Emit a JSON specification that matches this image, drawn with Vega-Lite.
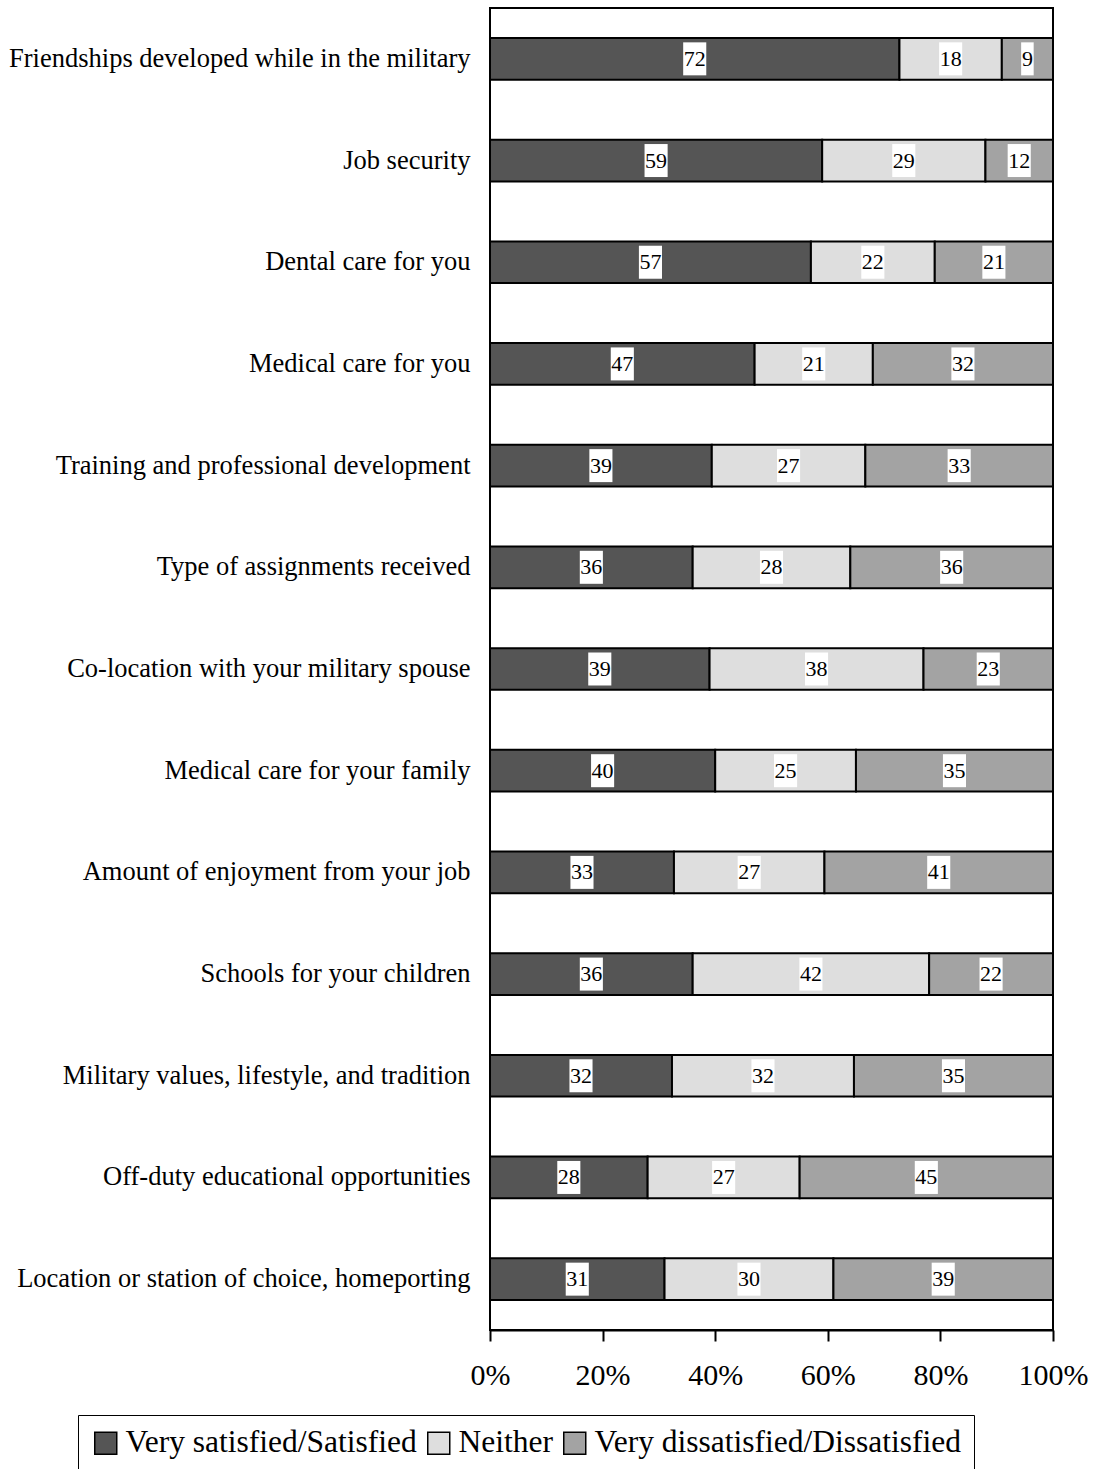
{
  "$schema": "https://vega.github.io/schema/vega-lite/v6.json",
  "autosize": "none",
  "width": 563,
  "height": 1322,
  "padding": {"left": 490, "top": 8, "right": 42, "bottom": 139},
  "background": "white",
  "config": {
    "font": "Liberation Serif",
    "view": {"stroke": "black", "strokeWidth": 2},
    "legend": {"strokeColor": "black"}
  },
  "data": {"values": [
    {"item": "Friendships developed while in the military", "response": "Very satisfied/Satisfied", "k": 1, "pct": 72},
    {"item": "Friendships developed while in the military", "response": "Neither", "k": 2, "pct": 18},
    {"item": "Friendships developed while in the military", "response": "Very dissatisfied/Dissatisfied", "k": 3, "pct": 9},
    {"item": "Job security", "response": "Very satisfied/Satisfied", "k": 1, "pct": 59},
    {"item": "Job security", "response": "Neither", "k": 2, "pct": 29},
    {"item": "Job security", "response": "Very dissatisfied/Dissatisfied", "k": 3, "pct": 12},
    {"item": "Dental care for you", "response": "Very satisfied/Satisfied", "k": 1, "pct": 57},
    {"item": "Dental care for you", "response": "Neither", "k": 2, "pct": 22},
    {"item": "Dental care for you", "response": "Very dissatisfied/Dissatisfied", "k": 3, "pct": 21},
    {"item": "Medical care for you", "response": "Very satisfied/Satisfied", "k": 1, "pct": 47},
    {"item": "Medical care for you", "response": "Neither", "k": 2, "pct": 21},
    {"item": "Medical care for you", "response": "Very dissatisfied/Dissatisfied", "k": 3, "pct": 32},
    {"item": "Training and professional development", "response": "Very satisfied/Satisfied", "k": 1, "pct": 39},
    {"item": "Training and professional development", "response": "Neither", "k": 2, "pct": 27},
    {"item": "Training and professional development", "response": "Very dissatisfied/Dissatisfied", "k": 3, "pct": 33},
    {"item": "Type of assignments received", "response": "Very satisfied/Satisfied", "k": 1, "pct": 36},
    {"item": "Type of assignments received", "response": "Neither", "k": 2, "pct": 28},
    {"item": "Type of assignments received", "response": "Very dissatisfied/Dissatisfied", "k": 3, "pct": 36},
    {"item": "Co-location with your military spouse", "response": "Very satisfied/Satisfied", "k": 1, "pct": 39},
    {"item": "Co-location with your military spouse", "response": "Neither", "k": 2, "pct": 38},
    {"item": "Co-location with your military spouse", "response": "Very dissatisfied/Dissatisfied", "k": 3, "pct": 23},
    {"item": "Medical care for your family", "response": "Very satisfied/Satisfied", "k": 1, "pct": 40},
    {"item": "Medical care for your family", "response": "Neither", "k": 2, "pct": 25},
    {"item": "Medical care for your family", "response": "Very dissatisfied/Dissatisfied", "k": 3, "pct": 35},
    {"item": "Amount of enjoyment from your job", "response": "Very satisfied/Satisfied", "k": 1, "pct": 33},
    {"item": "Amount of enjoyment from your job", "response": "Neither", "k": 2, "pct": 27},
    {"item": "Amount of enjoyment from your job", "response": "Very dissatisfied/Dissatisfied", "k": 3, "pct": 41},
    {"item": "Schools for your children", "response": "Very satisfied/Satisfied", "k": 1, "pct": 36},
    {"item": "Schools for your children", "response": "Neither", "k": 2, "pct": 42},
    {"item": "Schools for your children", "response": "Very dissatisfied/Dissatisfied", "k": 3, "pct": 22},
    {"item": "Military values, lifestyle, and tradition", "response": "Very satisfied/Satisfied", "k": 1, "pct": 32},
    {"item": "Military values, lifestyle, and tradition", "response": "Neither", "k": 2, "pct": 32},
    {"item": "Military values, lifestyle, and tradition", "response": "Very dissatisfied/Dissatisfied", "k": 3, "pct": 35},
    {"item": "Off-duty educational opportunities", "response": "Very satisfied/Satisfied", "k": 1, "pct": 28},
    {"item": "Off-duty educational opportunities", "response": "Neither", "k": 2, "pct": 27},
    {"item": "Off-duty educational opportunities", "response": "Very dissatisfied/Dissatisfied", "k": 3, "pct": 45},
    {"item": "Location or station of choice, homeporting", "response": "Very satisfied/Satisfied", "k": 1, "pct": 31},
    {"item": "Location or station of choice, homeporting", "response": "Neither", "k": 2, "pct": 30},
    {"item": "Location or station of choice, homeporting", "response": "Very dissatisfied/Dissatisfied", "k": 3, "pct": 39}
  ]},
  "encoding": {
    "y": {
      "field": "item", "type": "nominal", "sort": null,
      "scale": {"paddingInner": 0.59, "paddingOuter": 0.295},
      "axis": {"title": null, "domain": false, "ticks": false, "labelFontSize": 26.5, "labelColor": "black", "labelPadding": 20, "labelLimit": 700, "labelFont": "Liberation Serif"}
    },
    "x": {
      "field": "pct", "type": "quantitative", "stack": "normalize",
      "scale": {"domain": [0, 1], "nice": false},
      "axis": {"title": null, "grid": false, "values": [0, 0.2, 0.4, 0.6, 0.8, 1], "format": ".0%", "domainColor": "black", "domainWidth": 2, "tickColor": "black", "tickWidth": 2, "tickSize": 11, "labelFontSize": 30, "labelColor": "black", "labelPadding": 19, "labelFont": "Liberation Serif", "labelFlush": false}
    },
    "order": {"field": "k", "type": "quantitative"}
  },
  "layer": [
    {
      "mark": {"type": "bar", "stroke": "black", "strokeWidth": 2},
      "encoding": {
        "color": {
          "field": "response", "type": "nominal",
          "scale": {"domain": ["Very satisfied/Satisfied", "Neither", "Very dissatisfied/Dissatisfied"], "range": ["#555555", "#dedede", "#a3a3a3"]},
          "legend": {
            "title": null, "orient": "none", "direction": "horizontal", "legendX": -412, "legendY": 1407,
            "labelFontSize": 31.5, "labelColor": "black", "labelFont": "Liberation Serif", "labelOffset": 4,
            "symbolType": "square", "symbolSize": 484, "symbolStrokeColor": "black", "symbolStrokeWidth": 1.5, "symbolOpacity": 1,
            "columnPadding": 6, "padding": 12, "strokeColor": "black", "labelLimit": 600
          }
        }
      }
    },
    {
      "mark": {"type": "point", "filled": true, "opacity": 1, "strokeWidth": 0},
      "encoding": {
        "x": {"field": "pct", "type": "quantitative", "stack": "normalize", "bandPosition": 0.5},
        "detail": {"field": "response"},
        "color": {"value": "white"},
        "size": {"value": 1089},
        "shape": {"condition": {"test": "datum.pct < 10", "value": "M-0.38,-1H0.38V1H-0.38Z"}, "value": "M-0.7,-1H0.7V1H-0.7Z"}
      }
    },
    {
      "mark": {"type": "text", "font": "Liberation Serif", "fontSize": 22, "color": "black", "baseline": "middle", "align": "center"},
      "encoding": {
        "x": {"field": "pct", "type": "quantitative", "stack": "normalize", "bandPosition": 0.5},
        "detail": {"field": "response"},
        "text": {"field": "pct", "type": "quantitative"}
      }
    }
  ]
}
